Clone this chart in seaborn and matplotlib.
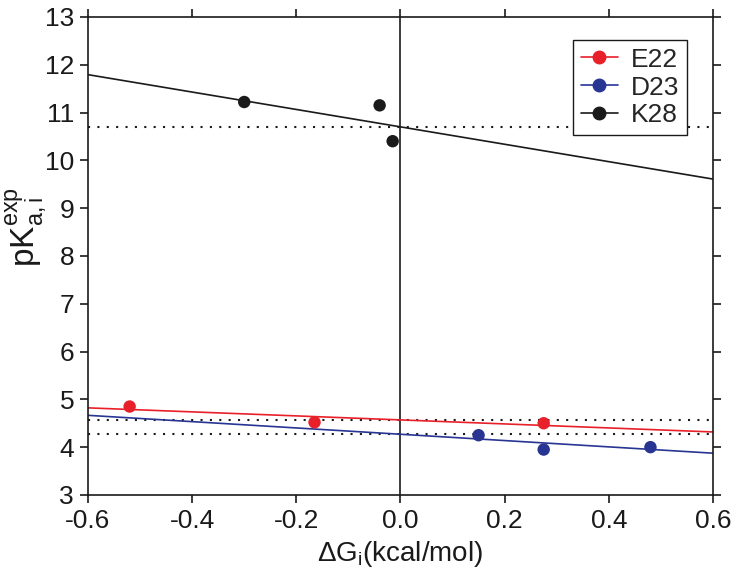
import numpy as np
import pandas as pd
import matplotlib
matplotlib.use("Agg")
import matplotlib.pyplot as plt
from matplotlib.lines import Line2D
import seaborn as sns

# pontos experimentais
e22_dg = [-0.52, -0.165, 0.275]
e22_pka = [4.85, 4.52, 4.50]
d23_dg = [0.15, 0.275, 0.48]
d23_pka = [4.25, 3.95, 4.00]
k28_dg = [-0.30, -0.04, -0.015]
k28_pka = [11.22, 11.15, 10.40]

# retas ajustadas (intercepto em dG=0, inclinação)
residues = ["E22", "D23", "K28"]
intercepts = [4.57, 4.27, 10.70]
slopes = [-0.42, -0.66, -1.82]
colors = ["#e8202a", "#283593", "#1a1a1a"]

data = pd.DataFrame({
    "dG": e22_dg + d23_dg + k28_dg,
    "pKa": e22_pka + d23_pka + k28_pka,
    "res": ["E22"] * 3 + ["D23"] * 3 + ["K28"] * 3,
})

sns.set_style("ticks")
plt.rcParams["font.family"] = ["Liberation Sans", "DejaVu Sans"]
plt.rcParams["mathtext.fontset"] = "custom"
plt.rcParams["mathtext.rm"] = "Liberation Sans"
plt.rcParams["mathtext.it"] = "Liberation Sans"

fig = plt.figure(figsize=(7.5, 5.83), dpi=100)
ax = fig.add_axes([0.1173, 0.151, 0.8333, 0.820])

xs = np.array([-0.6, 0.6])
for res, b, m, c in zip(residues, intercepts, slopes, colors):
    ax.plot(xs, b + m * xs, color=c, lw=1.2, zorder=2)
    ax.axhline(b, color="#1a1a1a", ls=(0, (1, 3.5)), lw=1.5, zorder=1)

ax.axvline(0, color="#1a1a1a", lw=1.2, zorder=1)

sns.scatterplot(data=data, x="dG", y="pKa", hue="res", palette=dict(zip(residues, colors)),
                s=80, edgecolor="none", legend=False, ax=ax, zorder=3)

ax.set_xlim(-0.6, 0.6)
ax.set_ylim(3, 13)
ax.set_xticks(np.arange(-0.6, 0.61, 0.2))
ax.set_xticklabels(["-0.6", "-0.4", "-0.2", "0.0", "0.2", "0.4", "0.6"])
ax.set_yticks(range(3, 14))
ax.tick_params(direction="out", length=6, width=1.2, labelsize=19, right=True, top=True,
               colors="#1a1a1a", pad=4)
for s in ax.spines.values():
    s.set_linewidth(1.2)
    s.set_color("#1a1a1a")

ax.set_xlabel(r"$\Delta$G$_{\rm i}$(kcal/mol)", fontsize=20, color="#1a1a1a")
ax.xaxis.set_label_coords(0.5, -0.092)
ax.set_ylabel(r"pK$_{\rm a,i}^{\rm exp}$", fontsize=24, color="#1a1a1a")
ax.yaxis.set_label_coords(-0.062, 0.56)

handles = [Line2D([0], [0], color=c, marker="o", markersize=9, lw=1.2) for c in colors]
leg = ax.legend(handles, residues, loc="upper right", fontsize=19, frameon=True, fancybox=False,
                edgecolor="#1a1a1a", handlelength=1.4, borderpad=0.3, labelspacing=0.15,
                handletextpad=0.5, bbox_to_anchor=(0.98, 0.98), framealpha=1)
leg.get_frame().set_linewidth(1.0)

fig.savefig("out.png", dpi=100)
